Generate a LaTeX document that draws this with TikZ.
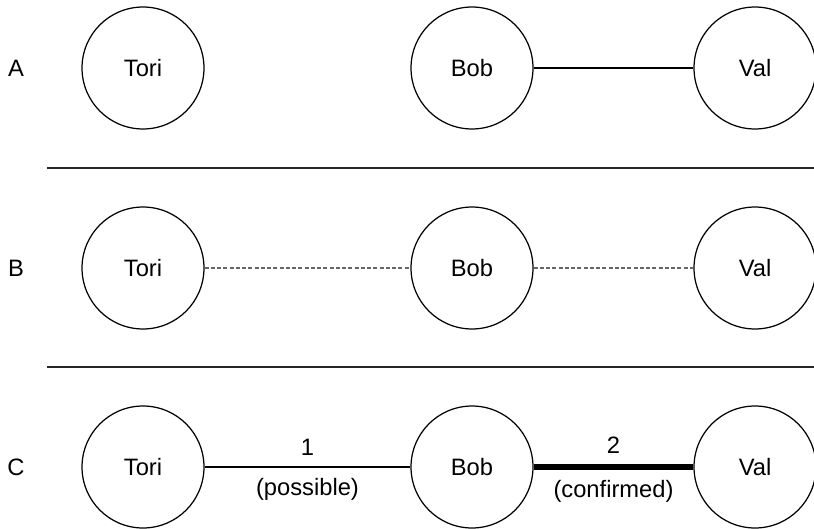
\documentclass[tikz,border=0pt]{standalone}
\usepackage{fontspec}
\setmainfont{Liberation Sans}
\begin{document}
\begin{tikzpicture}[x=0.02cm,y=0.02cm,
    font=\fontsize{13.5}{16}\selectfont,
    person/.style={draw, circle, minimum size=2.44cm, inner sep=0pt, line width=0.7pt},
    tie/.style={line width=0.7pt},
    maybe/.style={line width=0.7pt, gray!80!black, dash pattern=on 0.08cm off 0.045cm},
    sure/.style={line width=2.9pt},
    rowlabel/.style={inner sep=0pt}]
\def\tx{143}
\def\bx{472}
\def\vx{755}

\useasboundingbox (0,0) rectangle (814,528);

% row A
\node[rowlabel] (la) at (16,460) {A};
\node[person] (toriA) at (\tx,460) {Tori};
\node[person] (bobA) at (\bx,460) {Bob};
\node[person] (valA) at (\vx,460) {Val};
\draw[tie] (bobA) -- (valA);

\coordinate (s1) at (47,360);
\coordinate (e1) at (814,360);
\draw[line width=0.8pt, black!85] (s1) -- (e1);

% row B
\node[rowlabel] (lb) at (16,260) {B};
\node[person] (toriB) at (\tx,260) {Tori};
\node[person] (bobB) at (\bx,260) {Bob};
\node[person] (valB) at (\vx,260) {Val};
\draw[maybe] (toriB) -- (bobB);
\draw[maybe] (bobB) -- (valB);

\coordinate (s2) at (47,161);
\coordinate (e2) at (814,161);
\draw[line width=0.8pt, black!85] (s2) -- (e2);

% row C
\node[rowlabel] (lc) at (16,61) {C};
\node[person] (toriC) at (\tx,61) {Tori};
\node[person] (bobC) at (\bx,61) {Bob};
\node[person] (valC) at (\vx,61) {Val};
\draw[tie] (toriC) -- node[above=0.1cm] {1} node[below=0.1cm] {(possible)} (bobC);
\draw[sure] (bobC) -- node[above=0.1cm] {2} node[below=0.1cm] {(confirmed)} (valC);
\end{tikzpicture}
\end{document}
